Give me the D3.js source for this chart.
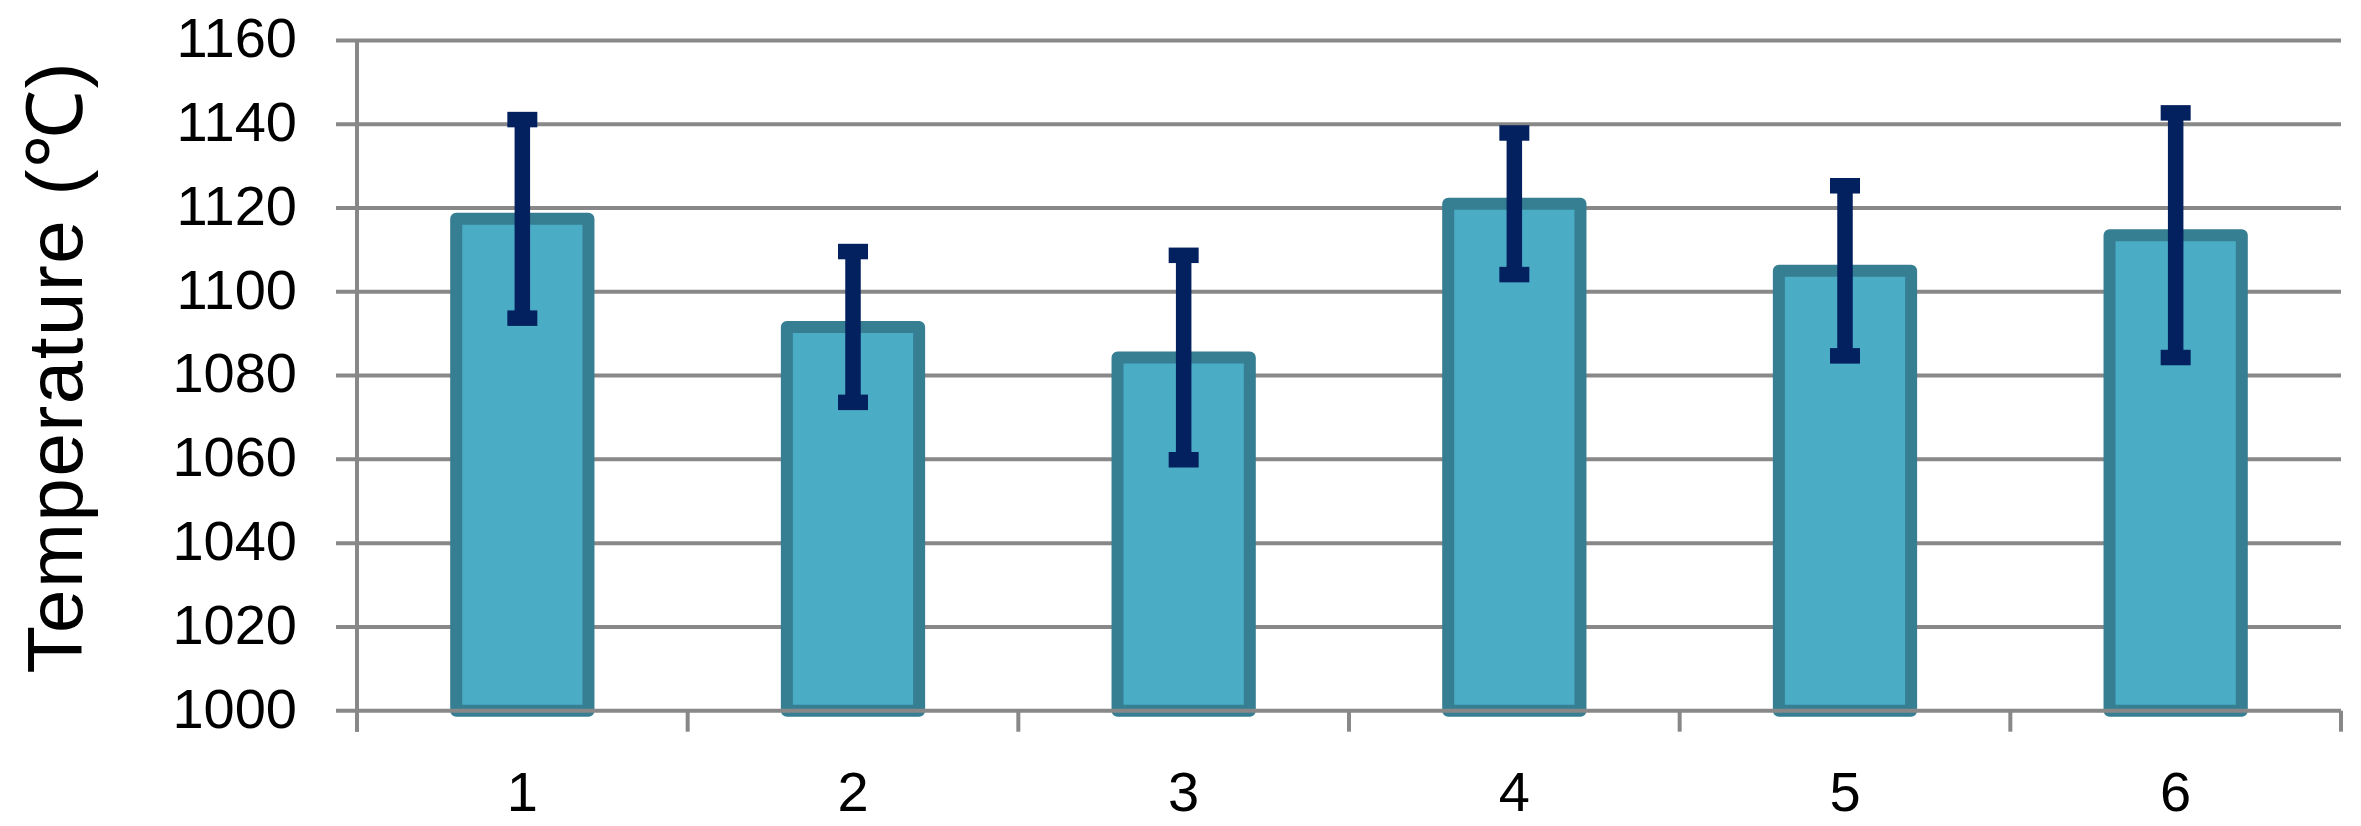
<!DOCTYPE html>
<html>
<head>
<meta charset="utf-8">
<script src="https://cdn.jsdelivr.net/npm/d3@7"></script>
<style>
  html, body { margin: 0; padding: 0; background: #fff; }
  svg { display: block; }
  text { font-family: "Liberation Sans", Arial, sans-serif; fill: #000; }
</style>
</head>
<body>
<div id="chart"></div>
<script>
// ===== 数据 =====
const categories = ["1", "2", "3", "4", "5", "6"];
const meanTemp = [1117.4, 1091.6, 1084.3, 1121.0, 1105.0, 1113.5];
const errTemp = [23.7, 18.0, 24.4, 16.9, 20.3, 29.2];
const yTicks = [1000, 1020, 1040, 1060, 1080, 1100, 1120, 1140, 1160];
const yTitle = "Temperature (℃)";

// ===== 尺寸 =====
const W = 2361, H = 826;
const plot = { left: 357, right: 2341, top: 40.4, bottom: 710.7 };

const svg = d3.select("#chart").append("svg")
  .attr("width", W).attr("height", H);

const x = d3.scaleBand()
  .domain(categories)
  .range([plot.left, plot.right])
  .paddingInner(0.6)
  .paddingOuter(0.3);

// 分类边界刻度
const xEdge = d3.scaleLinear().domain([0, categories.length]).range([plot.left, plot.right]);

const y = d3.scaleLinear().domain([1000, 1160]).range([plot.bottom, plot.top]);

const gridColor = "#888888";

// 网格线（含左侧刻度）
svg.append("g")
  .selectAll("line")
  .data(yTicks.filter(d => d !== 1000))
  .join("line")
  .attr("x1", plot.left - 21).attr("x2", plot.right)
  .attr("y1", d => y(d)).attr("y2", d => y(d))
  .attr("stroke", gridColor).attr("stroke-width", 4);

// 纵轴
svg.append("line")
  .attr("x1", plot.left).attr("x2", plot.left)
  .attr("y1", plot.top).attr("y2", plot.bottom + 21)
  .attr("stroke", gridColor).attr("stroke-width", 4);

// 纵轴刻度文字
svg.append("g")
  .selectAll("text")
  .data(yTicks)
  .join("text")
  .attr("x", 297)
  .attr("y", d => y(d))
  .attr("dy", "0.3em")
  .attr("text-anchor", "end")
  .attr("font-size", 56)
  .text(d => d);

// 柱子
svg.append("g")
  .selectAll("rect")
  .data(categories)
  .join("rect")
  .attr("x", d => x(d))
  .attr("width", x.bandwidth())
  .attr("y", (d, i) => y(meanTemp[i]))
  .attr("height", (d, i) => y(1000) - y(meanTemp[i]))
  .attr("fill", "#4BACC6")
  .attr("stroke", "#367E92")
  .attr("stroke-width", 12)
  .attr("stroke-linejoin", "round");

// 横轴基线 + 分类刻度
svg.append("line")
  .attr("x1", plot.left - 21).attr("x2", plot.right)
  .attr("y1", y(1000)).attr("y2", y(1000))
  .attr("stroke", gridColor).attr("stroke-width", 4);

svg.append("g")
  .selectAll("line")
  .data(d3.range(categories.length + 1))
  .join("line")
  .attr("x1", d => xEdge(d)).attr("x2", d => xEdge(d))
  .attr("y1", y(1000)).attr("y2", y(1000) + 21)
  .attr("stroke", gridColor).attr("stroke-width", 4);

// 误差线
const errColor = "#03205F";
const eb = svg.append("g")
  .selectAll("g")
  .data(categories)
  .join("g")
  .attr("transform", d => `translate(${x(d) + x.bandwidth() / 2},0)`);

eb.append("line")
  .attr("y1", (d, i) => y(meanTemp[i] + errTemp[i]))
  .attr("y2", (d, i) => y(meanTemp[i] - errTemp[i]))
  .attr("stroke", errColor).attr("stroke-width", 15.5);

eb.selectAll("line.cap")
  .data((d, i) => [meanTemp[i] + errTemp[i], meanTemp[i] - errTemp[i]])
  .join("line")
  .attr("class", "cap")
  .attr("x1", -15).attr("x2", 15)
  .attr("y1", v => y(v)).attr("y2", v => y(v))
  .attr("stroke", errColor).attr("stroke-width", 15.5);

// 横轴文字
svg.append("g")
  .selectAll("text")
  .data(categories)
  .join("text")
  .attr("x", d => x(d) + x.bandwidth() / 2)
  .attr("y", 811)
  .attr("text-anchor", "middle")
  .attr("font-size", 56)
  .text(d => d);

// 纵轴标题
svg.append("text")
  .attr("transform", "translate(82,368) rotate(-90)")
  .attr("text-anchor", "middle")
  .attr("font-size", 78)
  .attr("textLength", 611)
  .attr("lengthAdjust", "spacing")
  .text(yTitle);
</script>
</body>
</html>
